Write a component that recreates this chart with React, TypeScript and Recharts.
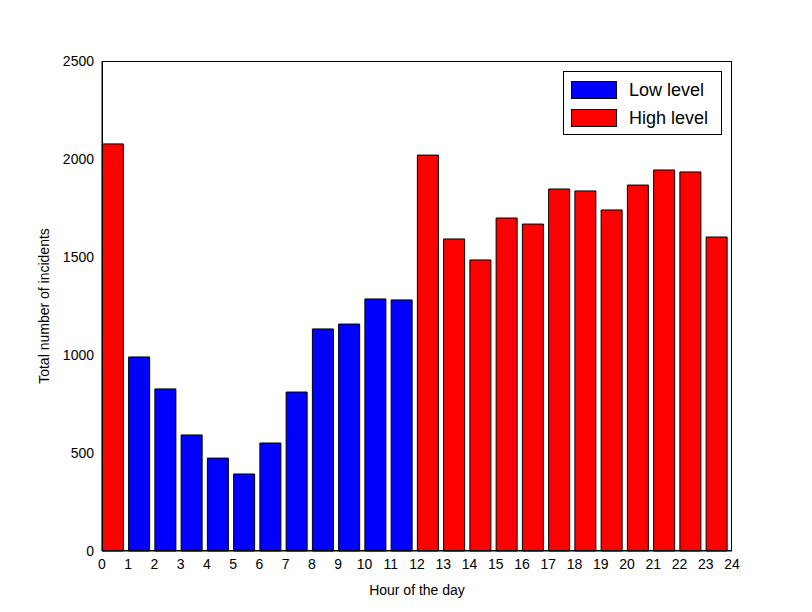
import { BarChart, Bar, Cell, XAxis, YAxis } from "recharts";

const HOURS = Array.from({ length: 24 }, (_, i) => i);
const INCIDENTS = [2077, 990, 827, 592, 474, 393, 551, 811, 1133, 1158, 1286, 1281, 2020, 1592, 1485, 1699, 1668, 1847, 1837, 1740, 1867, 1944, 1934, 1602];
const LEVELS = ["High", "Low", "Low", "Low", "Low", "Low", "Low", "Low", "Low", "Low", "Low", "Low", "High", "High", "High", "High", "High", "High", "High", "High", "High", "High", "High", "High"];
const X_TICKS = Array.from({ length: 25 }, (_, i) => i);
const Y_TICKS = [0, 500, 1000, 1500, 2000, 2500];

const data = HOURS.map((h, i) => ({ x: h + 0.4, value: INCIDENTS[i], level: LEVELS[i] }));
const font = { fontFamily: "Liberation Sans, Arial, sans-serif", fontSize: 14, fill: "#000" };

export default function App() {
  return (
    <div style={{ position: "absolute", left: 0, top: 0, width: 800, height: 600, background: "#fff" }}>
      <BarChart width={800} height={600} data={data} margin={{ top: 61, right: 68, left: 42, bottom: 19 }}>
        <XAxis dataKey="x" type="number" domain={[0, 24]} ticks={X_TICKS} interval={0} tickLine={false} tick={font} stroke="#000" height={30}
          label={{ value: "Hour of the day", position: "insideBottom", offset: -14, style: font }} />
        <YAxis type="number" domain={[0, 2500]} ticks={Y_TICKS} tickLine={false} tick={font} stroke="#000" width={60}
          label={{ value: "Total number of incidents", angle: -90, position: "insideLeft", offset: 2, style: { ...font, textAnchor: "middle" } }} />
        <Bar dataKey="value" barSize={21} stroke="#000" strokeWidth={1} isAnimationActive={false}>
          {data.map((d, i) => <Cell key={i} fill={d.level === "Low" ? "#0000ff" : "#ff0000"} />)}
        </Bar>
      </BarChart>
      <div style={{ position: "absolute", left: 102, top: 61, width: 630, height: 490, border: "1px solid #000", boxSizing: "border-box", pointerEvents: "none" }} />
      <div style={{ position: "absolute", left: 563, top: 71, width: 159, height: 64, boxSizing: "border-box", border: "1px solid #000", background: "#fff", padding: "4px 7px", fontFamily: "Liberation Sans, Arial, sans-serif", fontSize: 18 }}>
        {[["Low level", "#0000ff"], ["High level", "#ff0000"]].map(([n, c]) => (
          <div key={n} style={{ display: "flex", alignItems: "center", gap: 12, height: 28 }}>
            <div style={{ width: 44, height: 16, background: c, border: "1px solid #000" }} />
            <span>{n}</span>
          </div>
        ))}
      </div>
    </div>
  );
}
